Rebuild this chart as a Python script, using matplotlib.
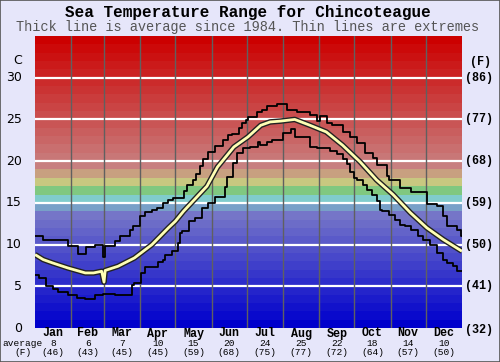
import matplotlib
matplotlib.use("Agg")
import matplotlib.pyplot as plt
from matplotlib.patches import Rectangle
import numpy as np

# ---------------- data ----------------
months = ["Jan", "Feb", "Mar", "Apr", "May", "Jun", "Jul", "Aug", "Sep", "Oct", "Nov", "Dec"]
month_days = [31, 28, 31, 30, 31, 30, 31, 31, 30, 31, 30, 31]
avg_c = [8, 6, 7, 10, 15, 20, 24, 25, 22, 18, 14, 10]
avg_f = [46, 43, 45, 45, 59, 68, 75, 77, 72, 64, 57, 50]

c_ticks = [0, 5, 10, 15, 20, 25, 30]
f_ticks = [32, 41, 50, 59, 68, 77, 86]

max_day = [0, 7, 28, 37, 44, 51, 58.5, 59.5, 68, 73, 81, 84, 90, 94, 100, 104, 109, 114, 118,
           127, 130, 135, 138, 141, 144, 148, 154, 161, 165, 168, 174, 177, 180, 182, 190, 194,
           198, 207, 215, 224, 235, 241, 244, 250, 254, 263, 269, 275, 282, 289, 292, 301, 303,
           312, 321, 335, 344, 349, 352, 361, 364, 365]
max_val = [11.0, 10.6, 9.85, 8.9, 9.7, 10.0, 8.5, 9.8, 10.4, 11.0, 11.7, 12.2, 13.4, 13.9, 14.2,
           14.4, 15.0, 15.3, 15.6, 16.4, 17.1, 17.7, 18.5, 19.4, 20.2, 21.1, 21.8, 22.5, 23.1,
           23.3, 24.0, 24.6, 24.9, 25.3, 25.9, 26.1, 26.6, 26.9, 26.1, 25.9, 25.5, 24.8, 25.4,
           24.6, 24.3, 23.5, 22.9, 22.2, 21.0, 20.4, 19.5, 18.2, 17.75, 16.8, 16.35, 14.9, 14.6,
           13.4, 12.2, 11.8, 11.0, 11.0]

min_day = [0, 3, 9, 15, 20, 28, 36, 43, 51, 58, 68, 83, 85, 91, 94, 105, 109, 111, 117, 122,
           124, 126, 132, 137, 143, 148, 154, 162, 164, 169, 173, 178, 184, 191, 192, 198, 203,
           212, 219, 222, 235, 241, 252, 258, 263, 267, 269, 273, 275, 280, 284, 288, 292, 295,
           297, 303, 308, 312, 316, 321, 327, 332, 338, 344, 349, 352, 357, 361, 365]
min_val = [6.3, 6.0, 5.0, 4.7, 4.35, 4.0, 3.6, 3.5, 3.9, 4.1, 4.0, 5.2, 5.4, 6.6, 7.3, 7.9, 8.2,
           8.8, 9.2, 10.2, 11.4, 11.6, 12.8, 13.2, 14.4, 15.0, 15.75, 16.9, 18.1, 19.8, 21.0,
           21.6, 21.7, 22.3, 21.9, 22.3, 22.5, 23.4, 23.8, 22.9, 21.7, 21.6, 21.2, 20.8, 20.2,
           19.6, 18.7, 18.0, 17.7, 17.2, 16.5, 15.9, 15.2, 14.2, 14.0, 13.6, 13.0, 12.4, 12.2,
           11.8, 11.0, 10.6, 9.9, 9.0, 8.2, 7.8, 7.4, 6.8, 6.8]

avg_day = [0, 7, 15, 28, 43, 50, 57, 59, 60, 71, 85, 100, 114, 120, 127, 135, 147, 156, 170,
           182, 193, 201, 210, 222, 235, 249, 263, 278, 292, 306, 321, 335, 349, 365]
avg_val = [8.8, 8.2, 7.8, 7.2, 6.6, 6.6, 6.8, 5.5, 6.9, 7.4, 8.4, 10.0, 12.0, 12.8, 14.0, 15.2,
           17.0, 19.3, 21.7, 22.9, 24.3, 24.7, 24.8, 25.0, 24.3, 23.5, 21.9, 19.9, 17.75, 16.0,
           13.8, 12.0, 10.6, 9.2]

# ---------------- figure ----------------
W, H = 500, 362
fig = plt.figure(figsize=(5, 3.62), dpi=100)
bg = "#e6e6fa"
fig.patch.set_facecolor(bg)
ax = fig.add_axes([35 / W, 1 - 328 / H, (462 - 35) / W, (328 - 36) / H])
ax.set_xlim(0, 365)
ax.set_ylim(0, 35)

# colour bands (1 degree each)
def band_color(i):
    special = {14: (120, 160, 200), 15: (128, 204, 204), 16: (128, 200, 128),
               17: (200, 200, 128), 18: (200, 160, 128)}
    if i in special:
        c = special[i]
    elif i < 14:
        v = i * 9
        c = (v, v, 204 - i * 0.3)
    else:
        t = (i - 19) / 15.0
        c = (200 + 4 * t, 128 * (1 - t), 128 * (1 - t))
    return tuple(x / 255 for x in c)

for i in range(35):
    ax.axhspan(i, i + 1, color=band_color(i), lw=0, zorder=0)

for t in c_ticks[1:]:
    ax.axhline(t, color="white", lw=1.6, zorder=1)

bounds = np.cumsum([0] + month_days)
for b in bounds[1:-1]:
    ax.axvline(b, color="#606060", lw=1.0, zorder=1)

ax.plot(max_day, max_val, drawstyle="steps-post", color="black", lw=1.3, zorder=3)
ax.plot(min_day, min_val, drawstyle="steps-post", color="black", lw=1.3, zorder=3)
ax.plot(avg_day, avg_val, color="#222222", lw=4.0, zorder=4, solid_capstyle="butt")
ax.plot(avg_day, avg_val, color="#ffffb4", lw=2.0, zorder=5, solid_capstyle="butt")

ax.set_xticks([])
ax.set_yticks([])
for s in ax.spines.values():
    s.set_visible(False)

# ---------------- texts ----------------
def px(x, y):
    return x / W, 1 - y / H

mono = "Liberation Mono"
fig.text(*px(248, 13), "Sea Temperature Range for Chincoteague", family=mono,
         weight="bold", size=11.5, ha="center", va="center", color="black")
fig.text(*px(248, 27), "Thick line is average since 1984. Thin lines are extremes",
         family=mono, size=9.8, ha="center", va="center", color="#555555")

fig.text(*px(22, 61), "C", family="DejaVu Sans", size=9, ha="right", va="center")
fig.text(*px(481, 62), "(F)", family=mono, weight="bold", size=8.5, ha="center", va="center")
for c, f in zip(c_ticks, f_ticks):
    y = ax.transData.transform((0, c))[1]
    yp = H - y
    fig.text(*px(22, yp), str(c), family="DejaVu Sans", size=9, ha="right", va="center")
    fig.text(*px(465, yp + (2 if c == 0 else 0)), f"({f})", family=mono, weight="bold",
             size=8.5, ha="left", va="center")

fig.text(*px(22.5, 343.5), "average", family=mono, size=6.8, ha="center", va="center")
fig.text(*px(22.5, 352.5), "(F)", family=mono, size=6.8, ha="center", va="center")
for i, m in enumerate(months):
    mid = (bounds[i] + bounds[i + 1]) / 2
    xp = ax.transData.transform((mid, 0))[0]
    fig.text(xp / W, 1 - 333.5 / H, m, family=mono, weight="bold", size=8.4,
             ha="center", va="center")
    fig.text(xp / W, 1 - 343.5 / H, str(avg_c[i]), family=mono, size=6.8,
             ha="center", va="center")
    fig.text(xp / W, 1 - 352.5 / H, f"({avg_f[i]})", family=mono, size=6.8,
             ha="center", va="center")

fig.patches.append(Rectangle((0, 0), 1, 1, transform=fig.transFigure, fill=False,
                             edgecolor="#555555", lw=1.2, zorder=10))

fig.savefig("out.png", dpi=100, facecolor=bg)
